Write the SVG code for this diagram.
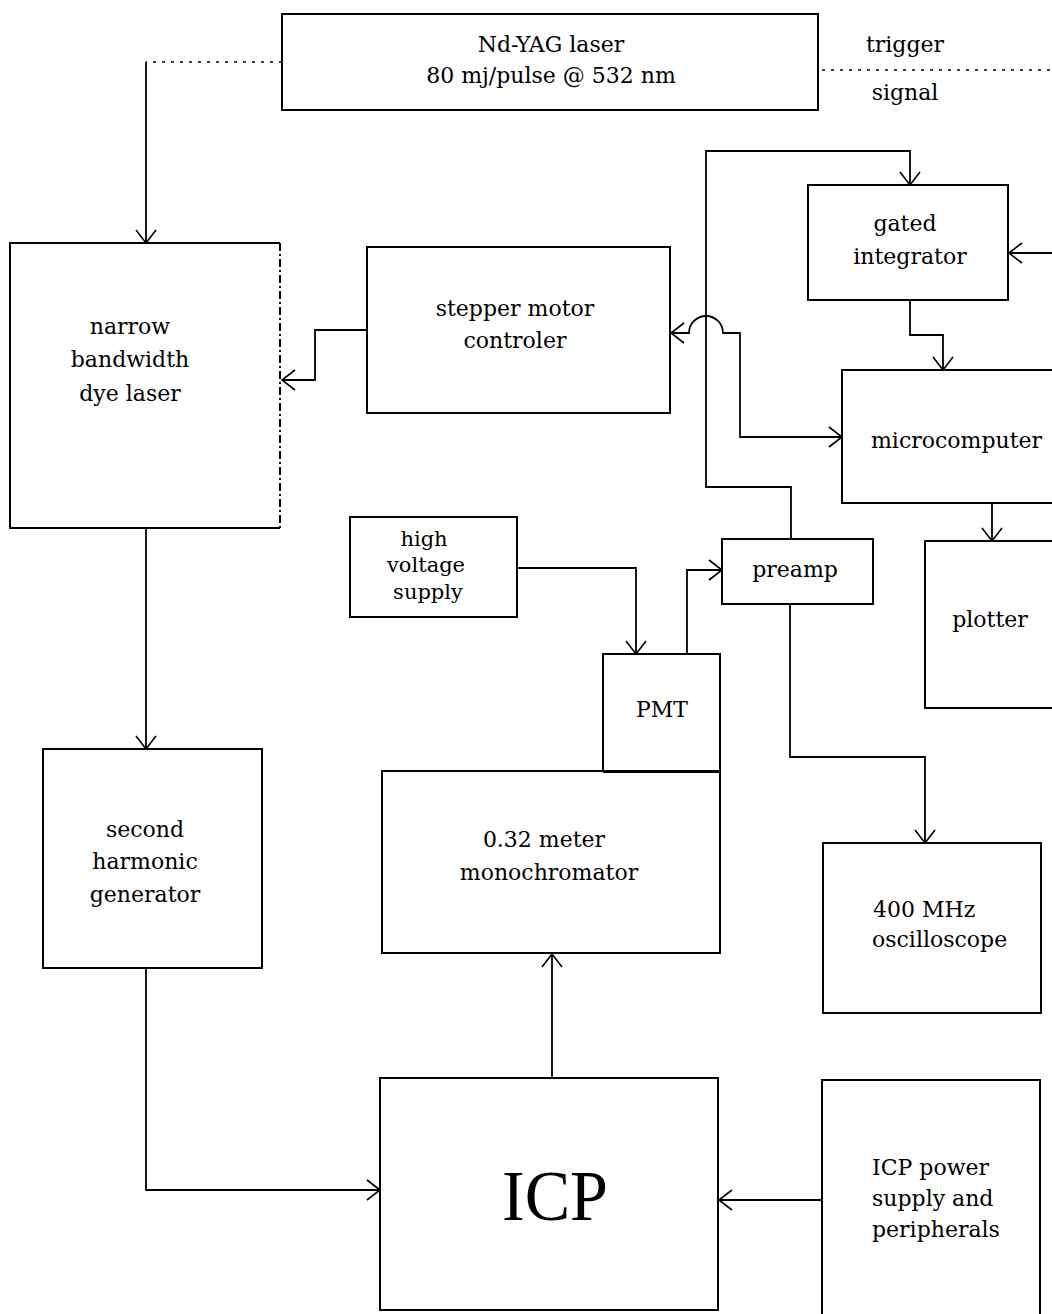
<svg xmlns="http://www.w3.org/2000/svg" width="1052" height="1314" viewBox="0 0 1052 1314">
<defs>
<style>
.box{fill:#fff;stroke:#000;stroke-width:2}
.open{fill:none;stroke:#000;stroke-width:2}
.ln{fill:none;stroke:#000;stroke-width:1.8}
.dot{fill:none;stroke:#000;stroke-width:1.3;stroke-dasharray:3 6}
text{font-family:"DejaVu Serif","Liberation Serif",serif;font-size:22px;fill:#000;text-anchor:middle}
.l{text-anchor:start}
</style>
<marker id="ah" viewBox="-16 -12 20 24" refX="0" refY="0" markerWidth="20" markerHeight="24" markerUnits="userSpaceOnUse" orient="auto-start-reverse">
<path d="M-13,-10 L0,0 L-13,10" fill="none" stroke="#000" stroke-width="1.6"/>
</marker>
</defs>
<rect width="1052" height="1314" fill="#fff"/>

<g id="connectors">
<path class="dot" d="M282,62 H146"/>
<path class="ln" d="M146,62 V243" marker-end="url(#ah)"/>
<path class="dot" d="M822,70 H1052"/>
<path class="ln" d="M367,330 H315 V380 H282" marker-end="url(#ah)"/>
<path class="ln" d="M791,539 V487 H706 V151 H910 V185" marker-end="url(#ah)"/>
<path class="ln" d="M842,437 H740 V333 H723 A17,17 0 0 0 689,333 H671" marker-start="url(#ah)" marker-end="url(#ah)"/>
<path class="ln" d="M1052,253 H1009" marker-end="url(#ah)"/>
<path class="ln" d="M910,300 V335 H943 V370" marker-end="url(#ah)"/>
<path class="ln" d="M992,503 V541" marker-end="url(#ah)"/>
<path class="ln" d="M517,568 H636 V654" marker-end="url(#ah)"/>
<path class="ln" d="M687,654 V570 H722" marker-end="url(#ah)"/>
<path class="ln" d="M790,604 V757 H925 V843" marker-end="url(#ah)"/>
<path class="ln" d="M146,528 V749" marker-end="url(#ah)"/>
<path class="ln" d="M146,968 V1190 H380" marker-end="url(#ah)"/>
<path class="ln" d="M552,1078 V954" marker-end="url(#ah)"/>
<path class="ln" d="M822,1200 H719" marker-end="url(#ah)"/>
</g>

<g id="nd-yag">
<rect class="box" x="282" y="14" width="536" height="96"/>
<text x="551" y="52">Nd-YAG laser</text>
<text x="551" y="83">80 mj/pulse @ 532 nm</text>
</g>

<g id="trigger-signal">
<text x="905" y="52">trigger</text>
<text x="905" y="100">signal</text>
</g>

<g id="dye-laser">
<path class="open" d="M280,243 H10 V528 H280"/>
<path class="open" d="M280,243 V528" stroke-dasharray="8 3 2 3"/>
<text x="130" y="334">narrow</text>
<text x="130" y="367">bandwidth</text>
<text x="130" y="401">dye laser</text>
</g>

<g id="stepper">
<rect class="box" x="367" y="247" width="303" height="166"/>
<text x="515" y="316">stepper motor</text>
<text x="515" y="348">controler</text>
</g>

<g id="gated-integrator">
<rect class="box" x="808" y="185" width="200" height="115"/>
<text x="905" y="231">gated</text>
<text x="910" y="264">integrator</text>
</g>

<g id="microcomputer">
<path class="box" d="M1054,370 H842 V503 H1054"/>
<text class="l" x="871" y="448">microcomputer</text>
</g>

<g id="plotter">
<path class="box" d="M1054,541 H925 V708 H1054"/>
<text x="990" y="627">plotter</text>
</g>

<g id="preamp">
<rect class="box" x="722" y="539" width="151" height="65"/>
<text x="795" y="577">preamp</text>
</g>

<g id="hv-supply">
<rect class="box" x="350" y="517" width="167" height="100"/>
<text x="424" y="546" style="font-size:21px">high</text>
<text x="426" y="572" style="font-size:21px">voltage</text>
<text x="428" y="599" style="font-size:21px">supply</text>
</g>

<g id="pmt">
<rect class="box" x="603" y="654" width="117" height="118"/>
<text x="662" y="717">PMT</text>
</g>

<g id="monochromator">
<rect class="box" x="382" y="771" width="338" height="182"/>
<path class="open" d="M603,772 H720" stroke-width="4"/>
<text x="544" y="847">0.32 meter</text>
<text x="549" y="880">monochromator</text>
</g>

<g id="shg">
<rect class="box" x="43" y="749" width="219" height="219"/>
<text x="145" y="837">second</text>
<text x="145" y="869">harmonic</text>
<text x="145" y="902">generator</text>
</g>

<g id="oscilloscope">
<rect class="box" x="823" y="843" width="218" height="170"/>
<text class="l" x="873" y="917">400 MHz</text>
<text class="l" x="872" y="947">oscilloscope</text>
</g>

<g id="icp">
<rect class="box" x="380" y="1078" width="338" height="232"/>
<text x="555" y="1220" textLength="106" lengthAdjust="spacingAndGlyphs" style="font-size:72px;font-family:'Liberation Serif',serif">ICP</text>
</g>

<g id="icp-power">
<path class="box" d="M822,1318 V1080 H1040 V1318"/>
<text class="l" x="872" y="1175">ICP power</text>
<text class="l" x="872" y="1206">supply and</text>
<text class="l" x="872" y="1237">peripherals</text>
</g>
</svg>
